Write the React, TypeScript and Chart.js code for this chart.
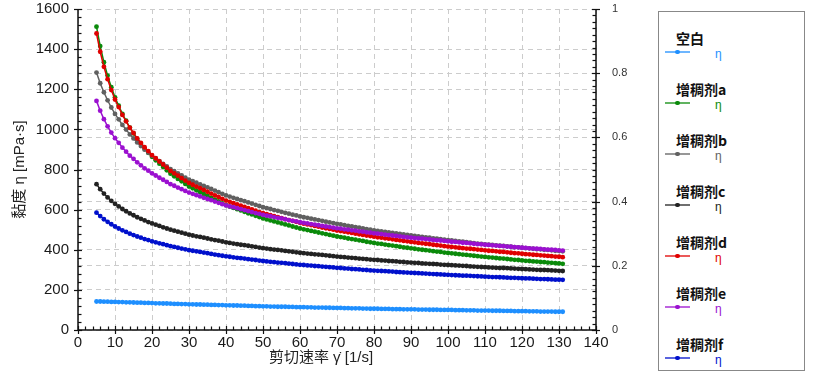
import React, { useEffect, useRef } from 'react';
import { Chart, registerables } from 'chart.js';
Chart.register(...registerables);

// Shear rate (1/s)
const shearRate = [
  5, 6, 7, 8, 9, 10, 11, 12, 13, 14, 15, 16, 17, 18, 19, 20,
  21, 22, 23, 24, 25, 26, 27, 28, 29, 30, 31, 32, 33, 34, 35, 36, 37, 38, 39, 40,
  41, 42, 43, 44, 45, 46, 47, 48, 49, 50, 51, 52, 53, 54, 55, 56, 57, 58, 59, 60,
  61, 62, 63, 64, 65, 66, 67, 68, 69, 70, 71, 72, 73, 74, 75, 76, 77, 78, 79, 80,
  81, 82, 83, 84, 85, 86, 87, 88, 89, 90, 91, 92, 93, 94, 95, 96, 97, 98, 99, 100,
  101, 102, 103, 104, 105, 106, 107, 108, 109, 110, 111, 112, 113, 114, 115, 116, 117, 118, 119, 120,
  121, 122, 123, 124, 125, 126, 127, 128, 129, 130, 131,
];

const blank = [
  142, 142, 141, 141, 140, 140,
  139, 139, 138, 138, 137, 136, 136, 135, 135, 134,
  133, 133, 132, 132, 131, 130, 130, 129, 129, 128,
  128, 127, 127, 126, 126, 125, 125, 124, 124, 123,
  123, 122, 122, 121, 121, 120, 120, 119, 119, 118,
  118, 117, 117, 116, 116, 116, 115, 115, 114, 114,
  114, 113, 113, 112, 112, 112, 111, 111, 110, 110,
  110, 109, 109, 108, 108, 108, 107, 107, 106, 106,
  106, 105, 105, 105, 104, 104, 104, 103, 103, 103,
  103, 102, 102, 102, 101, 101, 101, 100, 100, 100,
  100, 99, 99, 99, 98, 98, 98, 97, 97, 97,
  97, 96, 96, 96, 95, 95, 95, 94, 94, 94,
  94, 93, 93, 93, 92, 92, 92, 92, 91, 91, 91,
];

const thickenerA = [
  1512, 1415, 1335, 1268, 1210, 1160, 1118, 1077, 1043, 1009, 980, 952, 928, 904, 883, 863,
  846, 829, 813, 796, 779, 766, 753, 741, 728, 715,
  706, 696, 687, 678, 668, 659, 650, 641, 631, 622,
  615, 609, 602, 596, 589, 582, 576, 569, 563, 556,
  551, 546, 541, 536, 531, 526, 521, 516, 511, 506,
  502, 498, 494, 490, 486, 482, 478, 474, 470, 466,
  463, 460, 456, 453, 450, 447, 444, 440, 437, 434,
  431, 429, 426, 423, 421, 418, 415, 412, 410, 407,
  405, 402, 400, 398, 396, 393, 391, 389, 386, 384,
  382, 380, 378, 376, 374, 372, 370, 368, 366, 364,
  362, 361, 359, 357, 356, 354, 352, 350, 349, 347,
  345, 344, 342, 341, 339, 338, 336, 335, 333, 332, 330,
];

const thickenerB = [
  1283, 1230, 1185, 1145, 1109, 1077, 1050, 1022, 999, 975, 955, 935, 917, 899, 884, 868,
  855, 842, 828, 815, 802, 792, 781, 771, 760, 750,
  742, 734, 726, 718, 711, 703, 695, 687, 679, 671,
  665, 659, 653, 647, 642, 636, 630, 624, 618, 612,
  607, 603, 598, 594, 589, 584, 580, 575, 571, 566,
  562, 559, 555, 551, 548, 544, 540, 536, 533, 529,
  526, 523, 519, 516, 513, 510, 507, 503, 500, 497,
  494, 492, 489, 487, 484, 481, 479, 476, 474, 471,
  469, 466, 464, 462, 460, 457, 455, 453, 450, 448,
  446, 444, 442, 440, 438, 435, 433, 431, 429, 427,
  425, 424, 422, 420, 419, 417, 415, 413, 412, 410,
  408, 407, 405, 403, 402, 400, 399, 397, 395, 394, 392,
];

const thickenerC = [
  727, 702, 680, 661, 644, 629, 616, 603, 592, 581, 572, 562, 554, 546, 538, 531,
  525, 519, 512, 506, 500, 495, 490, 485, 480, 475,
  471, 467, 464, 460, 456, 452, 448, 445, 441, 437,
  434, 431, 428, 425, 423, 420, 417, 414, 411, 408,
  406, 403, 401, 399, 397, 394, 392, 390, 387, 385,
  383, 381, 379, 377, 376, 374, 372, 370, 368, 366,
  364, 363, 361, 360, 358, 356, 355, 353, 351, 350,
  349, 347, 346, 344, 343, 342, 340, 339, 337, 336,
  335, 334, 332, 331, 330, 329, 328, 326, 325, 324,
  323, 322, 321, 320, 319, 317, 316, 315, 314, 313,
  312, 311, 310, 309, 309, 308, 307, 306, 305, 304,
  303, 302, 301, 300, 299, 299, 298, 297, 296, 295, 294,
];

const thickenerD = [
  1478, 1387, 1312, 1250, 1196, 1149, 1111, 1072, 1040, 1008, 982, 955, 933, 911, 892, 872,
  856, 840, 825, 809, 793, 781, 769, 757, 745, 733,
  724, 715, 707, 698, 689, 680, 671, 663, 654, 645,
  639, 632, 626, 620, 613, 607, 601, 595, 588, 582,
  577, 572, 568, 563, 558, 553, 548, 544, 539, 534,
  530, 526, 523, 519, 515, 511, 507, 504, 500, 496,
  493, 490, 487, 484, 480, 477, 474, 471, 468, 465,
  462, 460, 457, 455, 452, 449, 447, 444, 442, 439,
  437, 434, 432, 430, 428, 425, 423, 421, 418, 416,
  414, 412, 410, 408, 406, 405, 403, 401, 399, 397,
  395, 394, 392, 390, 389, 387, 385, 383, 382, 380,
  378, 377, 375, 374, 372, 371, 369, 368, 366, 365, 363,
];

const thickenerE = [
  1142, 1093, 1051, 1015, 984, 956, 933, 909, 889, 869, 853, 836, 821, 806, 794, 781,
  770, 759, 749, 738, 727, 719, 710, 702, 693, 685,
  679, 672, 666, 659, 653, 647, 640, 634, 627, 621,
  616, 612, 607, 602, 598, 593, 588, 583, 579, 574,
  570, 567, 563, 559, 556, 552, 548, 544, 541, 537,
  534, 531, 528, 525, 522, 519, 516, 513, 510, 507,
  505, 502, 500, 497, 495, 492, 490, 487, 485, 482,
  480, 478, 475, 473, 471, 469, 467, 464, 462, 460,
  458, 456, 455, 453, 451, 449, 447, 446, 444, 442,
  440, 439, 437, 435, 434, 432, 430, 428, 427, 425,
  424, 422, 421, 419, 418, 416, 415, 413, 412, 410,
  409, 407, 406, 405, 404, 402, 401, 400, 399, 397, 396,
];

const thickenerF = [
  585, 568, 552, 539, 527, 516, 506, 497, 489, 480, 473, 466, 460, 453, 448, 442,
  437, 432, 428, 423, 418, 414, 410, 406, 402, 398,
  395, 392, 389, 386, 383, 379, 376, 373, 370, 367,
  365, 362, 360, 358, 356, 353, 351, 349, 346, 344,
  342, 340, 338, 336, 335, 333, 331, 329, 327, 325,
  324, 322, 321, 319, 318, 316, 315, 313, 312, 310,
  309, 307, 306, 304, 303, 302, 300, 299, 297, 296,
  295, 294, 293, 292, 291, 289, 288, 287, 286, 285,
  284, 283, 282, 281, 280, 279, 278, 277, 276, 275,
  274, 273, 272, 271, 271, 270, 269, 268, 267, 266,
  265, 264, 264, 263, 262, 261, 260, 260, 259, 258,
  257, 257, 256, 255, 254, 254, 253, 252, 251, 251, 250,
];

const seriesNames = ['空白', '增稠剂a', '增稠剂b', '增稠剂c', '增稠剂d', '增稠剂e', '增稠剂f'];
const seriesValues = [blank, thickenerA, thickenerB, thickenerC, thickenerD, thickenerE, thickenerF];
const seriesColors = ['#1e8fff', '#0a8a0a', '#606060', '#222222', '#e00000', '#9b10d0', '#0010cc'];

const xTitle = '剪切速率 γ̇ [1/s]';
const yTitle = '黏度 η [mPa·s]';
const legendUnit = 'η';

const FONT = 'Arial, "Liberation Sans", "Noto Sans CJK SC", sans-serif';

const axesPlugin = {
  id: 'axesDecor',
  afterDraw(chart: any) {
    const { ctx, chartArea, scales } = chart;
    const { left, right, top, bottom } = chartArea;
    ctx.save();
    ctx.strokeStyle = '#111';
    ctx.lineWidth = 1.5;
    ctx.beginPath();
    ctx.moveTo(left, top);
    ctx.lineTo(left, bottom);
    ctx.lineTo(right, bottom);
    ctx.lineTo(right, top);
    ctx.stroke();
    ctx.lineWidth = 1.2;
    // x ticks
    for (let v = 0; v <= 140; v += 2) {
      const px = Math.round(scales.x.getPixelForValue(v)) + 0.5;
      const major = v % 10 === 0;
      ctx.beginPath();
      ctx.moveTo(px, bottom - (major ? 4 : 3.5));
      ctx.lineTo(px, bottom + (major ? 4 : 0));
      ctx.stroke();
    }
    // left y ticks
    for (let v = 0; v <= 1600; v += 40) {
      const py = Math.round(scales.y.getPixelForValue(v)) + 0.5;
      const major = v % 200 === 0;
      ctx.beginPath();
      ctx.moveTo(left - (major ? 4 : 0), py);
      ctx.lineTo(left + (major ? 4 : 3.5), py);
      ctx.stroke();
    }
    // right y ticks
    for (let i = 0; i <= 50; i++) {
      const v = i * 0.02;
      const py = Math.round(scales.y2.getPixelForValue(v)) + 0.5;
      const major = i % 10 === 0;
      ctx.beginPath();
      ctx.moveTo(right - (major ? 4 : 3.5), py);
      ctx.lineTo(right + (major ? 4 : 0), py);
      ctx.stroke();
    }
    // titles
    ctx.fillStyle = '#222';
    ctx.font = '15px ' + FONT;
    ctx.textAlign = 'center';
    ctx.textBaseline = 'middle';
    ctx.fillText(xTitle, 321, 358);
    ctx.translate(20, (top + bottom) / 2);
    ctx.rotate(-Math.PI / 2);
    ctx.fillText(yTitle, 0, 0);
    ctx.restore();
  },
};

export default function App() {
  const ref = useRef<HTMLCanvasElement>(null);

  useEffect(() => {
    if (!ref.current) return;
    const datasets = seriesValues
      .map((vals, i) => ({
        label: seriesNames[i],
        data: vals.map((v, j) => ({ x: shearRate[j], y: v })),
        borderColor: seriesColors[i],
        backgroundColor: seriesColors[i],
        borderWidth: 1.5,
        pointRadius: 2.4,
        pointBorderWidth: 0,
        pointHoverRadius: 0,
        yAxisID: 'y',
        tension: 0,
      }))
      .reverse();
    const dash = [5, 4];
    const chart = new Chart(ref.current, {
      type: 'line',
      data: { datasets },
      plugins: [axesPlugin],
      options: {
        animation: false,
        responsive: true,
        maintainAspectRatio: false,
        layout: { padding: { left: 0, right: 185, top: 9, bottom: 0 } },
        plugins: { legend: { display: false }, tooltip: { enabled: false } },
        events: [],
        scales: {
          x: {
            type: 'linear',
            min: 0,
            max: 140,
            afterFit: (s: any) => { s.height = 44; s.paddingLeft = 0; s.paddingRight = 0; },
            ticks: {
              stepSize: 10, padding: 4, color: '#1a1a1a', font: { family: FONT, size: 15 }, maxRotation: 0,
              callback: (v: any) => String(v),
            },
            grid: { color: '#cccccc', lineWidth: 1, drawTicks: false },
            border: { display: false, dash },
          },
          y: {
            type: 'linear',
            position: 'left',
            min: 0,
            max: 1600,
            afterFit: (s: any) => { s.width = 78; s.paddingTop = 0; s.paddingBottom = 0; },
            ticks: {
              stepSize: 200, padding: 9, color: '#1a1a1a', font: { family: FONT, size: 15 },
              callback: (v: any) => String(v),
            },
            grid: { color: '#cccccc', lineWidth: 1, drawTicks: false },
            border: { display: false, dash },
          },
          y2: {
            type: 'linear',
            position: 'right',
            min: 0,
            max: 1,
            afterFit: (s: any) => { s.width = 40; s.paddingTop = 0; s.paddingBottom = 0; },
            ticks: {
              stepSize: 0.2, padding: 16, color: '#333', font: { family: FONT, size: 11 },
              callback: (v: any) => String(Number(Number(v).toFixed(1))),
            },
            grid: { color: '#cccccc', lineWidth: 1, drawTicks: false },
            border: { display: false, dash },
          },
        },
      },
    });
    return () => chart.destroy();
  }, []);

  const legendLeft = 658;
  const legendTop = 11;
  return (
    <div style={{ position: 'absolute', left: 0, top: 0, width: 821, height: 374, background: '#fff' }}>
      <canvas ref={ref} />
      <div
        style={{
          position: 'absolute',
          left: legendLeft,
          top: legendTop,
          width: 147,
          height: 360,
          border: '1px solid #888',
          boxSizing: 'border-box',
          background: '#fff',
        }}
      >
        {seriesNames.map((name, i) => {
          const lineY = 51 + 51.05 * i - legendTop;
          return (
            <React.Fragment key={name}>
              <div
                style={{
                  position: 'absolute',
                  left: 17,
                  top: lineY - 14 - 9,
                  fontFamily: '"Noto Sans CJK SC", Arial, sans-serif',
                  fontWeight: 700,
                  fontSize: 14,
                  lineHeight: '18px',
                  color: '#111',
                  whiteSpace: 'nowrap',
                }}
              >
                {name}
              </div>
              <div
                style={{
                  position: 'absolute',
                  left: 6,
                  top: lineY - 1,
                  width: 25,
                  height: 1.6,
                  background: seriesColors[i],
                  opacity: 0.65,
                }}
              />
              <div
                style={{
                  position: 'absolute',
                  left: 18.5 - 2.2,
                  top: lineY - 2.4,
                  width: 4.4,
                  height: 4.4,
                  borderRadius: '50%',
                  background: seriesColors[i],
                }}
              />
              <div
                style={{
                  position: 'absolute',
                  left: 56,
                  top: lineY - 5,
                  fontFamily: FONT,
                  fontSize: 12,
                  lineHeight: '14px',
                  color: seriesColors[i],
                }}
              >
                {legendUnit}
              </div>
            </React.Fragment>
          );
        })}
      </div>
    </div>
  );
}
